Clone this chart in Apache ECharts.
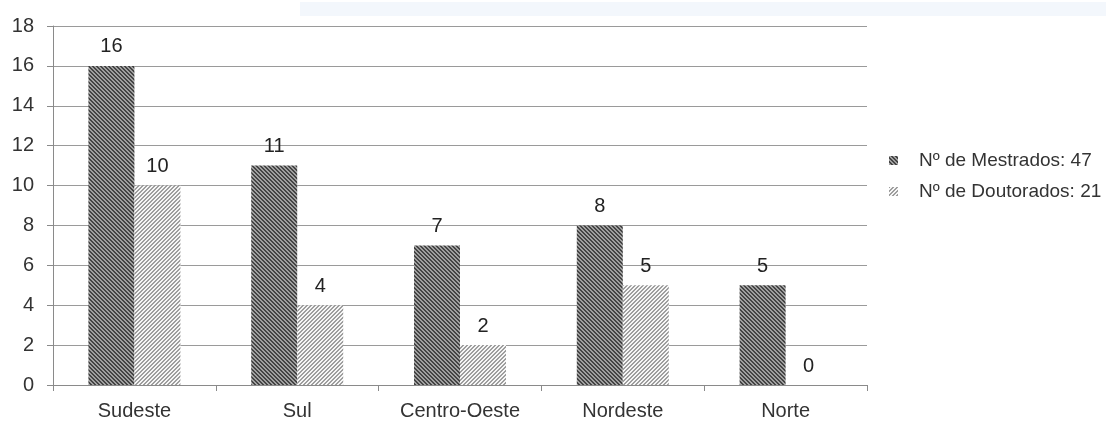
<!DOCTYPE html>
<html>
<head>
<meta charset="utf-8">
<script src="https://cdn.jsdelivr.net/npm/echarts@6/dist/echarts.min.js"></script>
<style>
html,body{margin:0;padding:0;background:#fff;}
#c{width:1106px;height:423px;}
</style>
</head>
<body>
<div id="c"></div>
<script>
const categories = ['Sudeste', 'Sul', 'Centro-Oeste', 'Nordeste', 'Norte'];
const mestrados = [16, 11, 7, 8, 5];
const doutorados = [10, 4, 2, 5, 0];
const seriesNames = ['Nº de Mestrados: 47', 'Nº de Doutorados: 21'];
const yTicks = { min: 0, max: 18, interval: 2 };

function makePattern(bg, fg, dir) {
  const s = 4;
  const c = document.createElement('canvas');
  c.width = s; c.height = s;
  const ctx = c.getContext('2d');
  ctx.fillStyle = bg;
  ctx.fillRect(0, 0, s, s);
  ctx.fillStyle = fg;
  for (let i = 0; i < s; i++) {
    const x = dir > 0 ? i : (s - 1 - i);
    ctx.fillRect(x, i, 1, 1);
    ctx.fillRect((x + 1) % s, i, 1, 1);
  }
  return c;
}
const darkPat = { image: makePattern('#444444', '#a0a0a0', 1), repeat: 'repeat' };
const lightPat = { image: makePattern('#f6f6f6', '#9e9e9e', -1), repeat: 'repeat' };

const chart = echarts.init(document.getElementById('c'), null, { renderer: 'canvas' });
const font = 'Liberation Sans, Arial, sans-serif';
chart.setOption({
  animation: false,
  backgroundColor: '#ffffff',
  textStyle: { fontFamily: font },
  graphic: [{
    type: 'rect', shape: { x: 300, y: 2, width: 806, height: 14 },
    style: { fill: '#f3f7fc' }, z: -1
  }],
  grid: { left: 53, right: 239, top: 26, bottom: 38 },
  legend: {
    orient: 'vertical',
    left: 884, top: 146,
    itemWidth: 9, itemHeight: 9,
    itemGap: 12,
    icon: 'rect',
    data: seriesNames,
    textStyle: { fontSize: 19, color: '#333', fontFamily: font, padding: [0, 0, 0, 16] }
  },
  xAxis: {
    type: 'category',
    data: categories,
    boundaryGap: true,
    axisLine: { show: true, lineStyle: { color: '#8a8a8a', width: 1 } },
    axisTick: { show: true, length: 6, alignWithLabel: false, lineStyle: { color: '#8a8a8a' } },
    axisLabel: { fontSize: 20, color: '#333', margin: 16, fontFamily: font },
    splitLine: { show: false }
  },
  yAxis: {
    type: 'value',
    min: yTicks.min, max: yTicks.max, interval: yTicks.interval,
    axisLine: { show: true, lineStyle: { color: '#8a8a8a', width: 1 } },
    axisTick: { show: true, length: 6, lineStyle: { color: '#8a8a8a' } },
    axisLabel: { fontSize: 20, color: '#333', margin: 19, fontFamily: font },
    splitLine: { show: true, lineStyle: { color: '#9a9a9a', width: 1 } }
  },
  series: [
    {
      name: seriesNames[0], type: 'bar', data: mestrados,
      barWidth: 46, barGap: '0%',
      itemStyle: { color: darkPat },
      label: { show: true, position: 'top', distance: 9, fontSize: 20, color: '#222', fontFamily: font }
    },
    {
      name: seriesNames[1], type: 'bar', data: doutorados,
      barWidth: 46, barGap: '0%',
      itemStyle: { color: lightPat },
      label: { show: true, position: 'top', distance: 9, fontSize: 20, color: '#222', fontFamily: font }
    }
  ]
});
</script>
</body>
</html>
